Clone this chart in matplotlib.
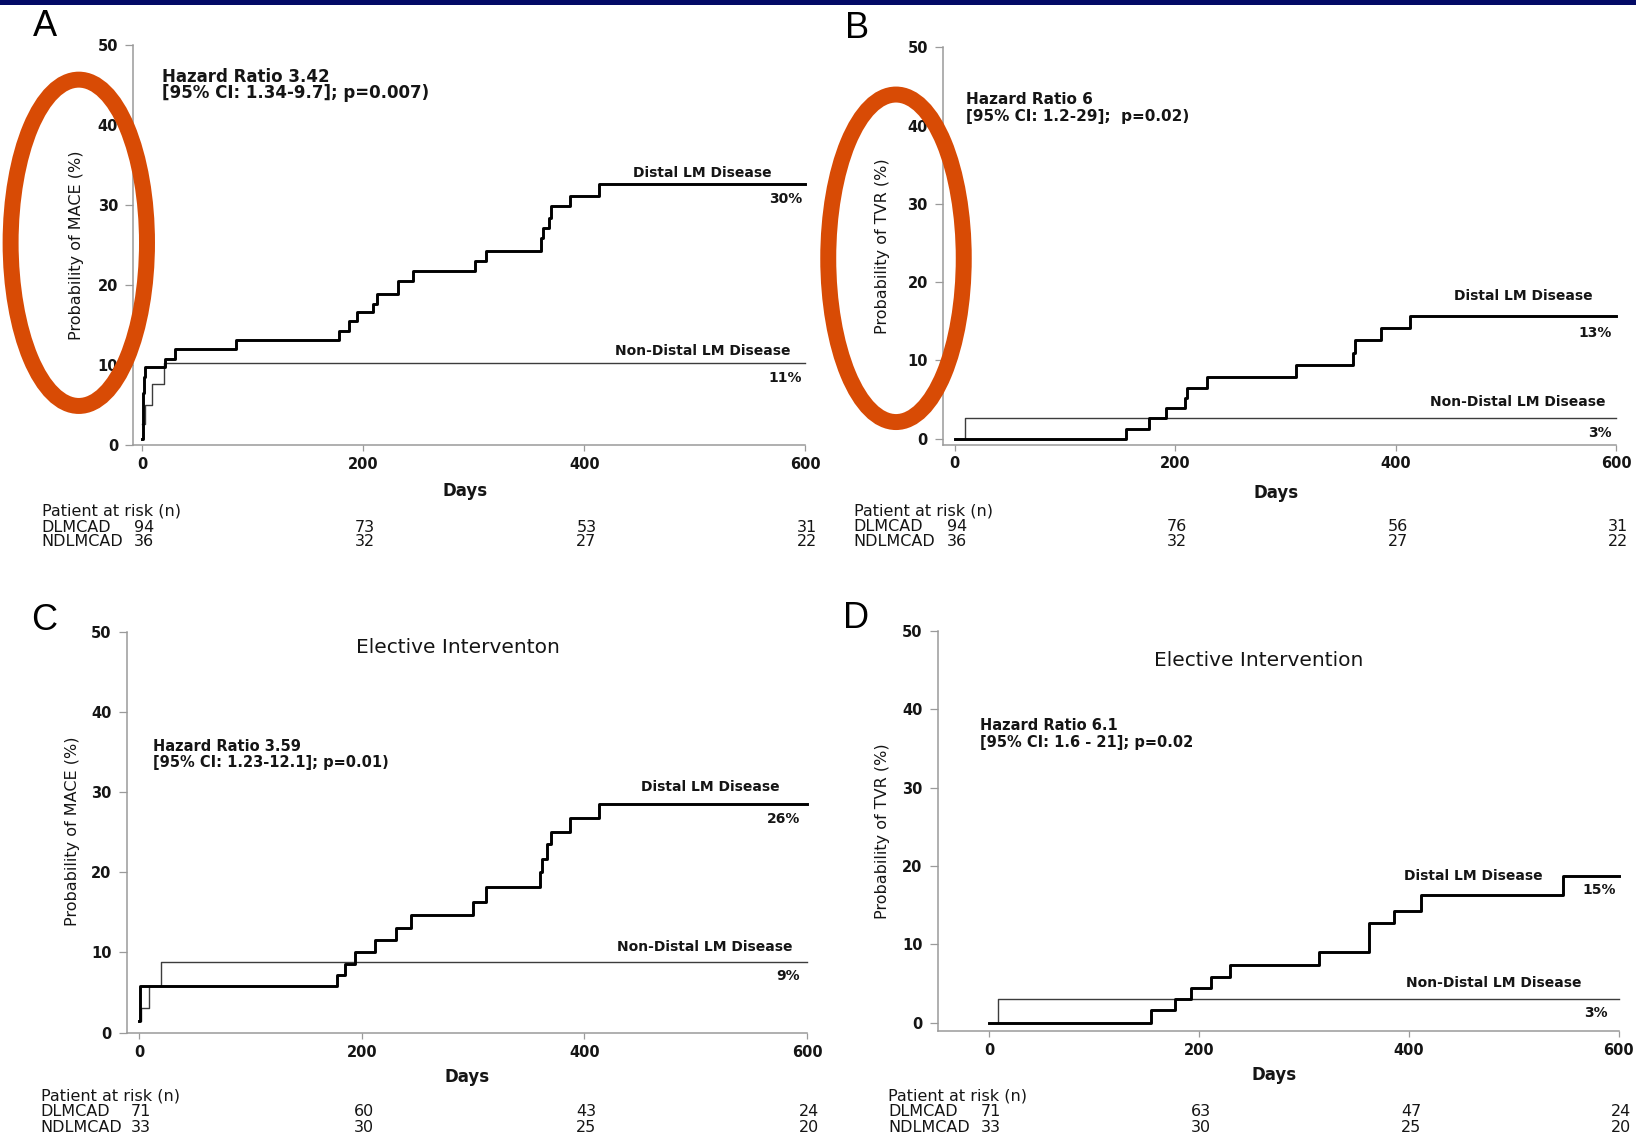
import matplotlib
matplotlib.use('Agg')
import matplotlib.pyplot as plt
from matplotlib.patches import Ellipse, Rectangle
import matplotlib.transforms as mtransforms

plt.rcParams['font.family'] = ['DejaVu Sans']

W, H = 1636, 1138

# ---------------- data ----------------
x_ticks = [0, 200, 400, 600]
y_ticks = [0, 10, 20, 30, 40, 50]
risk_days = [0, 200, 400, 600]

# Panel A (MACE, all)
A_dist_t = [0, 0.6, 1.2, 2.4, 20.6, 29.6, 84.9, 178, 187, 194, 209, 212, 231, 245, 301, 311, 361, 363, 368, 370, 387, 413, 600]
A_dist_v = [0.8, 6.5, 8.5, 9.8, 10.8, 12.0, 13.1, 14.3, 15.5, 16.6, 17.7, 18.9, 20.5, 21.8, 23.0, 24.3, 25.9, 27.1, 28.4, 29.9, 31.2, 32.6, 32.6]
A_non_t = [0, 2.5, 8.6, 19.7, 600]
A_non_v = [2.6, 5.0, 7.6, 10.3, 10.3]
A_risk_dl = [94, 73, 53, 31]
A_risk_ndl = [36, 32, 27, 22]

# Panel B (TVR, all)
B_dist_t = [0, 155, 176.5, 192, 209, 211, 229, 310, 361, 363, 387, 413, 600]
B_dist_v = [0, 1.3, 2.6, 3.9, 5.2, 6.5, 7.9, 9.4, 11.0, 12.6, 14.1, 15.7, 15.7]
B_non_t = [0, 9.6, 600]
B_non_v = [0, 2.7, 2.7]
B_risk_dl = [94, 76, 56, 31]
B_risk_ndl = [36, 32, 27, 22]

# Panel C (MACE, elective)
C_dist_t = [0, 1, 178, 185, 194, 212, 231, 244, 300, 312, 360, 362, 366, 370, 387, 413, 600]
C_dist_v = [1.5, 5.8, 7.2, 8.6, 10.1, 11.6, 13.1, 14.7, 16.3, 18.2, 20.0, 21.7, 23.5, 25.0, 26.8, 28.5, 28.5]
C_non_t = [0, 2, 9, 20, 600]
C_non_v = [1.5, 3.1, 5.8, 8.8, 8.8]
C_risk_dl = [71, 60, 43, 24]
C_risk_ndl = [33, 30, 25, 20]

# Panel D (TVR, elective)
D_dist_t = [0, 154, 177, 192, 211, 230, 314, 362, 386, 412, 547, 600]
D_dist_v = [0, 1.6, 3.0, 4.4, 5.9, 7.4, 9.1, 12.7, 14.3, 16.3, 18.7, 18.7]
D_non_t = [0, 8.4, 600]
D_non_v = [0, 3.1, 3.1]
D_risk_dl = [71, 63, 47, 24]
D_risk_ndl = [33, 30, 25, 20]

# ---------------- layout ----------------
panels = [
    dict(letter='A', box=(133.4, 45.4, 805.4, 445.0), xlo=-8, ylo=0.0,
         dist=(A_dist_t, A_dist_v), non=(A_non_t, A_non_v),
         ylabel='Probability of MACE (%)', ylab_xy=(76, 245.5), letter_xy=(45, 27),
         hz=['Hazard Ratio 3.42', '[95% CI: 1.34-9.7]; p=0.007)'], hz_xy=(162, 77, 93.3), hz_fs=12,
         title=None,
         dl_lab=(771.7, 173.3), dl_pct=('30%', 802.7, 199.3),
         nd_lab=(790.5, 351), nd_pct=('11%', 802, 377.7),
         days_xy=(465.5, 491),
         tab_left=41.7, tab_y=(511, 527.3, 541.7), risk=(A_risk_dl, A_risk_ndl)),
    dict(letter='B', box=(943.2, 47.3, 1616.2, 444.5), xlo=-10.4, ylo=-0.74,
         dist=(B_dist_t, B_dist_v), non=(B_non_t, B_non_v),
         ylabel='Probability of TVR (%)', ylab_xy=(883, 246), letter_xy=(857, 29),
         hz=['Hazard Ratio 6', '[95% CI: 1.2-29];  p=0.02)'], hz_xy=(965.6, 100, 116.3), hz_fs=11,
         title=None,
         dl_lab=(1592.7, 296), dl_pct=('13%', 1612, 332.6),
         nd_lab=(1605.8, 401.7), nd_pct=('3%', 1612, 433),
         days_xy=(1276, 492.5),
         tab_left=853.5, tab_y=(510.7, 526.4, 541.6), risk=(B_risk_dl, B_risk_ndl)),
    dict(letter='C', box=(126.6, 631.6, 807.0, 1032.7), xlo=-11.2, ylo=0.0,
         dist=(C_dist_t, C_dist_v), non=(C_non_t, C_non_v),
         ylabel='Probability of MACE (%)', ylab_xy=(73, 831.7), letter_xy=(44.5, 620.7),
         hz=['Hazard Ratio 3.59', '[95% CI: 1.23-12.1]; p=0.01)'], hz_xy=(153, 746.4, 762.7), hz_fs=10.5,
         title=('Elective Interventon', 457.6, 647.9),
         dl_lab=(780, 787.3), dl_pct=('26%', 800, 819),
         nd_lab=(792.3, 947.4), nd_pct=('9%', 800, 976.4),
         days_xy=(467, 1077),
         tab_left=40.8, tab_y=(1096, 1112, 1127.8), risk=(C_risk_dl, C_risk_ndl)),
    dict(letter='D', box=(938.0, 630.9, 1618.8, 1030.7), xlo=-48.7, ylo=-1.0,
         dist=(D_dist_t, D_dist_v), non=(D_non_t, D_non_v),
         ylabel='Probability of TVR (%)', ylab_xy=(883, 830.8), letter_xy=(856, 619),
         hz=['Hazard Ratio 6.1', '[95% CI: 1.6 - 21]; p=0.02'], hz_xy=(980.5, 726, 742.8), hz_fs=10.5,
         title=('Elective Intervention', 1258.8, 660.6),
         dl_lab=(1543, 876), dl_pct=('15%', 1616, 890.5),
         nd_lab=(1582, 983), nd_pct=('3%', 1608, 1012.6),
         days_xy=(1274.5, 1075),
         tab_left=888.4, tab_y=(1096, 1112, 1127.8), risk=(D_risk_dl, D_risk_ndl)),
]

fig = plt.figure(figsize=(W / 100, H / 100), dpi=100)
fig.patch.set_facecolor('white')

TXT = '#151515'
SPINE = '#9a9a9a'


def ptext(x, y, s, **kw):
    return fig.text(x / W, 1 - y / H, s, **kw)


for p in panels:
    l, t, r, b = p['box']
    ax = fig.add_axes([l / W, 1 - b / H, (r - l) / W, (b - t) / H])
    ax.set_facecolor('none')
    ax.step(p['non'][0], p['non'][1], where='post', color='#3c3c3c', lw=1.0, zorder=2, clip_on=False)
    ax.step(p['dist'][0], p['dist'][1], where='post', color='black', lw=2.1, zorder=3, clip_on=False)
    ax.set_xlim(p['xlo'], 600)
    ax.set_ylim(p['ylo'], 50)
    ax.set_xticks(x_ticks)
    ax.set_yticks(y_ticks)
    for s in ('top', 'right'):
        ax.spines[s].set_visible(False)
    for s in ('left', 'bottom'):
        ax.spines[s].set_color(SPINE)
        ax.spines[s].set_linewidth(1.1)
    ax.tick_params(axis='y', direction='out', length=6, width=0.9, color=SPINE, pad=5,
                   labelsize=10.5, labelcolor=TXT)
    ax.tick_params(axis='x', direction='out', length=4, width=0.9, color=SPINE, pad=4.5,
                   labelsize=10.5, labelcolor=TXT)
    for lab in ax.get_xticklabels() + ax.get_yticklabels():
        lab.set_fontweight('bold')

    # panel letter
    ptext(p['letter_xy'][0], p['letter_xy'][1], p['letter'], fontsize=26,
          family=['Liberation Sans', 'DejaVu Sans'], ha='center', va='center', color='black')
    # y label
    ptext(p['ylab_xy'][0], p['ylab_xy'][1], p['ylabel'], rotation=90, fontsize=11.5,
          ha='center', va='center', color=TXT)
    # x label
    ptext(p['days_xy'][0], p['days_xy'][1], 'Days', fontsize=12, fontweight='bold',
          ha='center', va='center', color=TXT)
    # hazard ratio
    hx, hy1, hy2 = p['hz_xy']
    ptext(hx, hy1, p['hz'][0], fontsize=p['hz_fs'], fontweight='bold', ha='left', va='center', color=TXT)
    ptext(hx, hy2, p['hz'][1], fontsize=p['hz_fs'], fontweight='bold', ha='left', va='center', color=TXT)
    # title
    if p['title']:
        ptext(p['title'][1], p['title'][2], p['title'][0], fontsize=14.5,
              ha='center', va='center', color=TXT)
    # curve labels
    ptext(p['dl_lab'][0], p['dl_lab'][1], 'Distal LM Disease', fontsize=10, fontweight='bold',
          ha='right', va='center', color=TXT)
    ptext(p['dl_pct'][1], p['dl_pct'][2], p['dl_pct'][0], fontsize=10, fontweight='bold',
          ha='right', va='center', color=TXT)
    ptext(p['nd_lab'][0], p['nd_lab'][1], 'Non-Distal LM Disease', fontsize=10, fontweight='bold',
          ha='right', va='center', color=TXT)
    ptext(p['nd_pct'][1], p['nd_pct'][2], p['nd_pct'][0], fontsize=10, fontweight='bold',
          ha='right', va='center', color=TXT)
    # patients at risk table
    ty0, ty1, ty2 = p['tab_y']
    ptext(p['tab_left'], ty0, 'Patient at risk (n)', fontsize=11.5, ha='left', va='center', color=TXT)
    ptext(p['tab_left'], ty1, 'DLMCAD', fontsize=11.5, ha='left', va='center', color=TXT)
    ptext(p['tab_left'], ty2, 'NDLMCAD', fontsize=11.5, ha='left', va='center', color=TXT)
    trans = mtransforms.blended_transform_factory(ax.transData, fig.transFigure) + \
        mtransforms.ScaledTranslation(2 / 100, 0, fig.dpi_scale_trans)
    dl, ndl = p['risk']
    for d, n1, n2 in zip(risk_days, dl, ndl):
        fig.text(d, 1 - ty1 / H, str(n1), transform=trans, fontsize=11.5, ha='center', va='center', color=TXT)
        fig.text(d, 1 - ty2 / H, str(n2), transform=trans, fontsize=11.5, ha='center', va='center', color=TXT)

# overlay: navy header bar and highlight ellipses
ov = fig.add_axes([0, 0, 1, 1], zorder=20)
ov.set_xlim(0, W)
ov.set_ylim(H, 0)
ov.axis('off')
ov.patch.set_alpha(0)
ov.add_patch(Rectangle((0, 0), W, 4.5, facecolor='#030a66', edgecolor='none'))
ORANGE = '#d84b05'
ov.add_patch(Ellipse((78.8, 242.8), 136.4, 326.3, fill=False, edgecolor=ORANGE, lw=11.5))
ov.add_patch(Ellipse((896.0, 258.3), 135.5, 327.5, fill=False, edgecolor=ORANGE, lw=11.5))

fig.savefig('out.png', dpi=100, facecolor='white')
